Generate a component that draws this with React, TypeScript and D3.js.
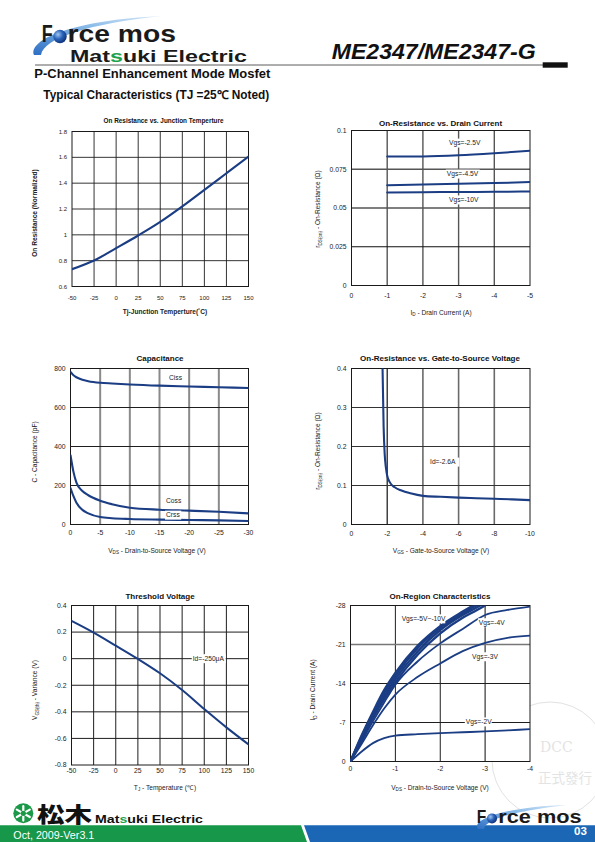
import React from "react";
import * as d3 from "d3";

const FONT = "'Liberation Sans', Arial, Helvetica, sans-serif";
const NAVY = "#1b3d84";

// ---------- Chart 1: On Resistance vs. Junction Temperature ----------
const junctionTempC = [-50, -25, 0, 25, 50, 75, 100, 125, 150];
const onResNormalized = [0.734, 0.801, 0.897, 0.995, 1.1, 1.22, 1.348, 1.477, 1.606];
const tempXTicks = [-50, -25, 0, 25, 50, 75, 100, 125, 150];
const onResNormYTicks = [0.6, 0.8, 1, 1.2, 1.4, 1.6, 1.8];

// ---------- Chart 2: On-Resistance vs. Drain Current ----------
const drainCurrentA = [-1, -2, -3, -4, -5];
const rdsVgs2p5 = [0.0832, 0.0833, 0.084, 0.0853, 0.0869];
const rdsVgs4p5 = [0.0647, 0.0651, 0.0656, 0.0661, 0.0667];
const rdsVgs10 = [0.06, 0.0602, 0.0603, 0.0605, 0.0606];
const idXTicks = [0, -1, -2, -3, -4, -5];
const rdsIdYTicks = [0, 0.025, 0.05, 0.075, 0.1];

// ---------- Chart 3: Capacitance ----------
const capVds = [0, -0.5, -1, -2, -3, -5, -7, -10, -15, -20, -25, -30];
const cissPf = [782, 765, 755, 742, 735, 727, 723, 718, 712, 708, 704, 700];
const cossPf = [355, 270, 215, 172, 150, 122, 104, 86, 76, 71, 65, 57];
const crssPf = [187, 145, 112, 75, 57, 38, 32, 28, 25, 23, 21, 18];
const capXTicks = [0, -5, -10, -15, -20, -25, -30];
const capYTicks = [0, 200, 400, 600, 800];

// ---------- Chart 4: On-Resistance vs. Gate-to-Source Voltage ----------
const vgsSweep = [-1.74, -1.8, -1.86, -1.93, -2.0, -2.15, -2.4, -2.8, -3.3, -4, -5, -6, -7, -8, -9, -10];
const rdsVsVgs = [0.4, 0.25, 0.18, 0.145, 0.125, 0.108, 0.096, 0.087, 0.08, 0.0735, 0.071, 0.069, 0.0675, 0.066, 0.0645, 0.0625];
const vgsXTicks = [0, -2, -4, -6, -8, -10];
const rdsVgsYTicks = [0, 0.1, 0.2, 0.3, 0.4];

// ---------- Chart 5: Threshold Voltage ----------
const thTempC = [-50, -25, 0, 25, 50, 75, 100, 125, 150];
const vthVariance = [0.284, 0.196, 0.098, -0.002, -0.11, -0.236, -0.379, -0.517, -0.645];
const vthYTicks = [-0.8, -0.6, -0.4, -0.2, 0, 0.2, 0.4];

// ---------- Chart 6: On-Region Characteristics ----------
const vdsOn = [0, -0.25, -0.5, -0.75, -1, -1.5, -2, -2.5, -3, -3.5, -4];
const idVgs2 = [0, -1.8, -3.3, -4.2, -4.65, -4.9, -5.1, -5.25, -5.4, -5.6, -5.8];
const idVgs3 = [0, -3.2, -6.5, -9.5, -12, -15.2, -17.6, -19.8, -21.3, -22.2, -22.6];
const idVgs4 = [0, -3.6, -7.2, -10.6, -13.8, -18, -21.2, -23.8, -26.3, -27.2, -27.8];
const vdsBand = [0, -0.25, -0.5, -0.75, -1, -1.5, -2, -2.5, -2.8, -3.0];
const idVgs5 = [0, -4.0, -7.8, -11.2, -14.2, -19.2, -23.0, -25.8, -27.1, -28.0];
const idVgs6 = [0, -4.3, -8.2, -11.7, -14.8, -19.8, -23.6, -26.3, -27.6, -28.5];
const idVgs8 = [0, -4.5, -8.6, -12.3, -15.4, -20.4, -24.0, -26.6, -28.0, -28.9];
const idVgs10 = [0, -4.7, -8.9, -12.8, -15.9, -20.8, -24.3, -26.9, -28.3, -29.2];
const vdsOnXTicks = [0, -1, -2, -3, -4];
const idOnYTicks = [0, -7, -14, -21, -28];

interface GridSpec { values: number[]; color: string; width: number }
interface SeriesSpec { xs: number[]; ys: number[]; width: number }
interface NoteSpec { text: string; x: number; y: number }

interface ChartProps {
  id: string;
  left: number; right: number; top: number; bottom: number;
  xDomain: [number, number]; yDomain: [number, number];
  xTicks: number[]; yTicks: number[];
  tickFont: number; xTickDy: number;
  vGrid: GridSpec[]; hGrid: GridSpec[];
  series: SeriesSpec[];
  notes: NoteSpec[];
  title: string; titleX: number; titleY: number; titleSize: number;
  xTitle: React.ReactNode; xTitleX: number; xTitleY: number;
  yTitle: React.ReactNode; yTitleX: number; yTitleY: number;
  axisTitleBold: boolean; axisTitleSize: number;
}

function Chart(p: ChartProps) {
  const x = d3.scaleLinear().domain(p.xDomain).range([p.left, p.right]);
  const y = d3.scaleLinear().domain(p.yDomain).range([p.bottom, p.top]);
  const line = d3
    .line<[number, number]>()
    .x((d) => x(d[0]))
    .y((d) => y(d[1]))
    .curve(d3.curveMonotoneX);
  const noteFont = 6.7;
  return (
    <g fontFamily={FONT}>
      <defs>
        <clipPath id={p.id}>
          <rect x={p.left} y={p.top} width={p.right - p.left} height={p.bottom - p.top} />
        </clipPath>
      </defs>
      <rect x={p.left} y={p.top} width={p.right - p.left} height={p.bottom - p.top} fill="#fff" />
      {p.vGrid.map((g, gi) =>
        g.values.map((v) => (
          <line key={`v${gi}_${v}`} x1={x(v)} x2={x(v)} y1={p.top} y2={p.bottom} stroke={g.color} strokeWidth={g.width} />
        ))
      )}
      {p.hGrid.map((g, gi) =>
        g.values.map((v) => (
          <line key={`h${gi}_${v}`} x1={p.left} x2={p.right} y1={y(v)} y2={y(v)} stroke={g.color} strokeWidth={g.width} />
        ))
      )}
      <rect x={p.left} y={p.top} width={p.right - p.left} height={p.bottom - p.top} fill="none" stroke="#1a1a1a" strokeWidth={1} />
      <g clipPath={`url(#${p.id})`}>
        {p.series.map((s, i) => (
          <path
            key={i}
            d={line(d3.zip(s.xs, s.ys) as [number, number][]) || ""}
            fill="none"
            stroke={NAVY}
            strokeWidth={s.width}
            strokeLinejoin="round"
            strokeLinecap="round"
          />
        ))}
      </g>
      {p.notes.map((n, i) => {
        const w = n.text.length * noteFont * 0.53 + 2;
        return (
          <g key={i}>
            <rect x={x(n.x) - 1} y={y(n.y) - 4.5} width={w} height={9} fill="#fff" />
            <text x={x(n.x)} y={y(n.y)} dy="0.35em" fontSize={noteFont} fill="#222">
              {n.text}
            </text>
          </g>
        );
      })}
      {p.yTicks.map((v) => (
        <text key={`yt${v}`} x={p.left - 5} y={y(v)} dy="0.35em" textAnchor="end" fontSize={p.tickFont} fill="#222">
          {String(v)}
        </text>
      ))}
      {p.xTicks.map((v) => (
        <text key={`xt${v}`} x={x(v)} y={p.bottom + p.xTickDy} dy="0.35em" textAnchor="middle" fontSize={p.tickFont} fill="#222">
          {String(v)}
        </text>
      ))}
      <text x={p.titleX} y={p.titleY} textAnchor="middle" fontSize={p.titleSize} fontWeight="bold" fill="#111">
        {p.title}
      </text>
      <text
        x={p.xTitleX}
        y={p.xTitleY}
        textAnchor="middle"
        fontSize={p.axisTitleSize}
        fontWeight={p.axisTitleBold ? "bold" : "normal"}
        fill="#222"
      >
        {p.xTitle}
      </text>
      <text
        transform={`translate(${p.yTitleX},${p.yTitleY}) rotate(-90)`}
        textAnchor="middle"
        fontSize={p.axisTitleSize}
        fontWeight={p.axisTitleBold ? "bold" : "normal"}
        fill="#222"
      >
        {p.yTitle}
      </text>
    </g>
  );
}

const Sub = ({ main, sub, rest }: { main: string; sub: string; rest: string }) => (
  <>
    {main}
    <tspan fontSize="4.6" dy="1.6">{sub}</tspan>
    <tspan dy="-1.6">{rest}</tspan>
  </>
);

function Header() {
  return (
    <g>
      <defs>
        <linearGradient id="swoosh" x1="0" y1="1" x2="1" y2="0">
          <stop offset="0" stopColor="#2d6fc4" />
          <stop offset="0.6" stopColor="#8dbde9" />
          <stop offset="1" stopColor="#dbeaf8" />
        </linearGradient>
        <radialGradient id="ball" cx="0.35" cy="0.35" r="0.7">
          <stop offset="0" stopColor="#9fc6f0" />
          <stop offset="0.5" stopColor="#2a63b8" />
          <stop offset="1" stopColor="#0c2f78" />
        </radialGradient>
      </defs>
      <path d="M34 55 C28 40 72 20 162 16 C88 24 44 38 41 55 Z" fill="url(#swoosh)" />
      <text x={41.7} y={41.7} fontFamily={FONT} fontWeight="bold" fontSize={23} fill="#1a1a1a" textLength={11} lengthAdjust="spacingAndGlyphs">
        F
      </text>
      <circle cx={60} cy={36.5} r={6.7} fill="url(#ball)" />
      <text x={67.5} y={41.7} fontFamily={FONT} fontWeight="bold" fontSize={23} fill="#1a1a1a" textLength={108.5} lengthAdjust="spacingAndGlyphs">
        rce mos
      </text>
      <text x={70} y={62.3} fontFamily={FONT} fontWeight="bold" fontSize={17} fill="#1a1a1a" textLength={177} lengthAdjust="spacingAndGlyphs">
        Mat<tspan fill="#1ea24c">s</tspan>uki Electric
      </text>
      <text x={331.7} y={59} fontFamily={FONT} fontWeight="bold" fontStyle="italic" fontSize={21.5} fill="#111" textLength={204} lengthAdjust="spacingAndGlyphs">
        ME2347/ME2347-G
      </text>
      <line x1={35} x2={543} y1={65} y2={65} stroke="#333" strokeWidth={0.8} />
      <rect x={542.7} y={62.3} width={25} height={5.4} fill="#111" />
      <text x={34.3} y={78.3} fontFamily={FONT} fontWeight="bold" fontSize={12} fill="#111" textLength={236} lengthAdjust="spacingAndGlyphs">
        P-Channel Enhancement Mode Mosfet
      </text>
      <text x={43.3} y={99.3} fontFamily={FONT} fontWeight="bold" fontSize={12} fill="#111" textLength={226} lengthAdjust="spacingAndGlyphs">
        Typical Characteristics (TJ =25℃ Noted)
      </text>
    </g>
  );
}

function Footer() {
  return (
    <g>
      <polygon points="0,825.3 301,825.3 307,842 0,842" fill="#17974a" />
      <polygon points="304,825.3 595,825.3 595,842 310,842" fill="#1b67b6" />
      <text x={13.3} y={838.7} fontFamily={FONT} fontSize={10.3} fill="#fff" textLength={81} lengthAdjust="spacingAndGlyphs">
        Oct, 2009-Ver3.1
      </text>
      <text x={574} y={834.7} fontFamily={FONT} fontWeight="bold" fontSize={11.5} fill="#fff">
        03
      </text>
      {/* Matsuki emblem */}
      <circle cx={23.3} cy={813.3} r={10} fill="#1a9a48" />
      <g stroke="#fff" strokeWidth={2.2} strokeLinecap="round">
        <line x1={23.3} y1={806} x2={23.3} y2={820.6} />
        <line x1={16.8} y1={809.6} x2={29.8} y2={817} />
        <line x1={16.8} y1={817} x2={29.8} y2={809.6} />
      </g>
      <circle cx={23.3} cy={813.3} r={2.6} fill="#1a9a48" />
      <text x={37} y={822} fontFamily="'Noto Sans CJK JP', sans-serif" fontWeight={900} fontSize={21} fill="#111" textLength={55} lengthAdjust="spacingAndGlyphs">
        松木
      </text>
      <text x={95} y={823} fontFamily={FONT} fontWeight="bold" fontSize={10.5} fill="#111" textLength={108} lengthAdjust="spacingAndGlyphs">
        Mat<tspan fill="#1ea24c">s</tspan>uki Electric
      </text>
      {/* Force mos footer logo */}
      <path d="M478 829 C470 818 515 806 566 805 C518 811 486 818 484 829 Z" fill="url(#swoosh)" />
      <text x={476.7} y={822.7} fontFamily={FONT} fontWeight="bold" fontSize={17.5} fill="#1a1a1a" textLength={9.5} lengthAdjust="spacingAndGlyphs">
        F
      </text>
      <circle cx={492} cy={818.4} r={5} fill="url(#ball)" />
      <text x={498.3} y={822.7} fontFamily={FONT} fontWeight="bold" fontSize={17.5} fill="#1a1a1a" textLength={83.4} lengthAdjust="spacingAndGlyphs">
        rce mos
      </text>
    </g>
  );
}

function Watermark() {
  return (
    <g opacity={0.6}>
      <circle cx={550} cy={760} r={58} fill="none" stroke="#cfcfcf" strokeWidth={1} />
      <text x={540} y={752} fontFamily="'DejaVu Serif', serif" fontSize={14} fill="#d2d2d2">
        DCC
      </text>
      <text x={538} y={783} fontFamily="'Noto Sans CJK TC', sans-serif" fontSize={13.5} fill="#d2d2d2">
        正式發行
      </text>
    </g>
  );
}

export default function App() {
  const dark = "#1e1e1e";
  return (
    <svg
      width={595}
      height={842}
      viewBox="0 0 595 842"
      style={{ position: "absolute", left: 0, top: 0, background: "#fff" }}
      xmlns="http://www.w3.org/2000/svg"
    >
      <rect width={595} height={842} fill="#fff" />
      <Header />
      <Watermark />

      <Chart
        id="c1"
        left={72} right={248.5} top={131.5} bottom={286.5}
        xDomain={[-50, 150]} yDomain={[0.6, 1.8]}
        xTicks={tempXTicks} yTicks={onResNormYTicks}
        tickFont={6} xTickDy={11.5}
        vGrid={[{ values: [-25, 0, 25, 50, 75, 100, 125], color: dark, width: 0.9 }]}
        hGrid={[{ values: [0.8, 1, 1.2, 1.4, 1.6], color: dark, width: 0.9 }]}
        series={[{ xs: junctionTempC, ys: onResNormalized, width: 2.1 }]}
        notes={[]}
        title="On Resistance vs. Junction Temperture" titleX={163.5} titleY={122.5} titleSize={6.4}
        xTitle="Tj-Junction Temperture(˚C)" xTitleX={165} xTitleY={313.5}
        yTitle="On Resistance (Normalized)" yTitleX={37} yTitleY={213}
        axisTitleBold={true} axisTitleSize={6.6}
      />

      <Chart
        id="c2"
        left={351.5} right={530} top={130.5} bottom={285.5}
        xDomain={[0, -5]} yDomain={[0, 0.1]}
        xTicks={idXTicks} yTicks={rdsIdYTicks}
        tickFont={6.8} xTickDy={10}
        vGrid={[{ values: [-1, -2, -3, -4], color: "#555", width: 1.4 }]}
        hGrid={[
          { values: [0.05, 0.075], color: "#555", width: 1.4 },
          { values: [0.025], color: "#111", width: 1.2 },
        ]}
        series={[
          { xs: drainCurrentA, ys: rdsVgs2p5, width: 2 },
          { xs: drainCurrentA, ys: rdsVgs4p5, width: 2 },
          { xs: drainCurrentA, ys: rdsVgs10, width: 2 },
        ]}
        notes={[
          { text: "Vgs=-2.5V", x: -2.73, y: 0.0919 },
          { text: "Vgs=-4.5V", x: -2.67, y: 0.0719 },
          { text: "Vgs=-10V", x: -2.73, y: 0.0552 },
        ]}
        title="On-Resistance vs. Drain Current" titleX={440.5} titleY={126} titleSize={8}
        xTitle={<Sub main="I" sub="D" rest=" - Drain Current (A)" />} xTitleX={441} xTitleY={314.5}
        yTitle={<Sub main="r" sub="DS(on)" rest=" - On-Resistance (Ω)" />} yTitleX={320} yTitleY={209}
        axisTitleBold={false} axisTitleSize={6.6}
      />

      <Chart
        id="c3"
        left={70.5} right={248.5} top={368.5} bottom={524.5}
        xDomain={[0, -30]} yDomain={[0, 800]}
        xTicks={capXTicks} yTicks={capYTicks}
        tickFont={6.8} xTickDy={8.5}
        vGrid={[{ values: [-5, -10, -15, -20, -25], color: "#8a8a8a", width: 2 }]}
        hGrid={[{ values: [200, 400, 600], color: dark, width: 1 }]}
        series={[
          { xs: capVds, ys: cissPf, width: 2.1 },
          { xs: capVds, ys: cossPf, width: 2.1 },
          { xs: capVds, ys: crssPf, width: 2.1 },
        ]}
        notes={[
          { text: "Ciss", x: -16.6, y: 751 },
          { text: "Coss", x: -16.1, y: 122 },
          { text: "Crss", x: -16.1, y: 48 },
        ]}
        title="Capacitance" titleX={160} titleY={361} titleSize={8}
        xTitle={<Sub main="V" sub="DS" rest=" - Drain-to-Source Voltage (V)" />} xTitleX={157} xTitleY={552.5}
        yTitle="C - Capacitance (pF)" yTitleX={37} yTitleY={452}
        axisTitleBold={false} axisTitleSize={6.6}
      />

      <Chart
        id="c4"
        left={351.5} right={530} top={368.5} bottom={524.5}
        xDomain={[0, -10]} yDomain={[0, 0.4]}
        xTicks={vgsXTicks} yTicks={rdsVgsYTicks}
        tickFont={6.8} xTickDy={9}
        vGrid={[
          { values: [-4, -6, -8], color: "#6a6a6a", width: 1.6 },
          { values: [-2], color: "#111", width: 1.2 },
        ]}
        hGrid={[{ values: [0.1, 0.2, 0.3], color: "#333", width: 1.2 }]}
        series={[{ xs: vgsSweep, ys: rdsVsVgs, width: 2.1 }]}
        notes={[{ text: "Id=-2.6A", x: -4.4, y: 0.16 }]}
        title="On-Resistance vs. Gate-to-Source Voltage" titleX={440} titleY={361} titleSize={8}
        xTitle={<Sub main="V" sub="GS" rest=" - Gate-to-Source Voltage (V)" />} xTitleX={441} xTitleY={552.5}
        yTitle={<Sub main="r" sub="DS(on)" rest=" - On-Resistance (Ω)" />} yTitleX={320} yTitleY={451}
        axisTitleBold={false} axisTitleSize={6.6}
      />

      <Chart
        id="c5"
        left={71.5} right={248.5} top={605.5} bottom={765}
        xDomain={[-50, 150]} yDomain={[-0.8, 0.4]}
        xTicks={tempXTicks} yTicks={vthYTicks}
        tickFont={6.8} xTickDy={5.5}
        vGrid={[{ values: [-25, 0, 25, 50, 75, 100, 125], color: dark, width: 1 }]}
        hGrid={[{ values: [-0.6, -0.4, -0.2, 0, 0.2], color: dark, width: 1 }]}
        series={[{ xs: thTempC, ys: vthVariance, width: 2 }]}
        notes={[{ text: "Id=-250μA", x: 87, y: 0 }]}
        title="Threshold Voltage" titleX={160} titleY={598.5} titleSize={8}
        xTitle={<Sub main="T" sub="J" rest=" - Temperature (℃)" />} xTitleX={165} xTitleY={789.5}
        yTitle={<Sub main="V" sub="GS(th)" rest=" - Variance (V)" />} yTitleX={37} yTitleY={690}
        axisTitleBold={false} axisTitleSize={6.6}
      />

      <Chart
        id="c6"
        left={350.5} right={530} top={605.5} bottom={761.5}
        xDomain={[0, -4]} yDomain={[0, -28]}
        xTicks={vdsOnXTicks} yTicks={idOnYTicks}
        tickFont={6.8} xTickDy={7}
        vGrid={[
          { values: [-1, -2], color: dark, width: 1 },
          { values: [-3], color: "#444", width: 1.3 },
        ]}
        hGrid={[
          { values: [-7, -14], color: dark, width: 1 },
          { values: [-21], color: "#777", width: 1.6 },
        ]}
        series={[
          { xs: vdsOn, ys: idVgs2, width: 1.8 },
          { xs: vdsOn, ys: idVgs3, width: 1.8 },
          { xs: vdsOn, ys: idVgs4, width: 1.8 },
          { xs: vdsBand, ys: idVgs5, width: 2.4 },
          { xs: vdsBand, ys: idVgs6, width: 2.4 },
          { xs: vdsBand, ys: idVgs8, width: 2.4 },
          { xs: vdsBand, ys: idVgs10, width: 2.4 },
        ]}
        notes={[
          { text: "Vgs=-5V~-10V", x: -1.14, y: -25.6 },
          { text: "Vgs=-4V", x: -2.86, y: -24.9 },
          { text: "Vgs=-3V", x: -2.71, y: -18.8 },
          { text: "Vgs=-2V", x: -2.57, y: -7.1 },
        ]}
        title="On-Region Characteristics" titleX={440} titleY={598.5} titleSize={8}
        xTitle={<Sub main="V" sub="DS" rest=" - Drain-to-Source Voltage (V)" />} xTitleX={440} xTitleY={789.5}
        yTitle={<Sub main="I" sub="D" rest=" - Drain Current (A)" />} yTitleX={315} yTitleY={690}
        axisTitleBold={false} axisTitleSize={6.6}
      />

      <Footer />
    </svg>
  );
}
